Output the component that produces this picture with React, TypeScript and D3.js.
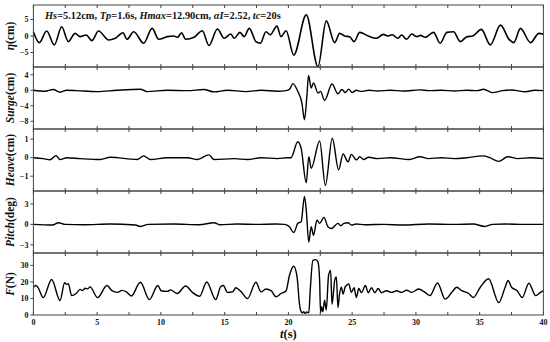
import React from "react";
import * as d3 from "d3";

const xTicks = [0, 5, 10, 15, 20, 25, 30, 35, 40];
const xMinorTicks = [2.5, 7.5, 12.5, 17.5, 22.5, 27.5, 32.5, 37.5];

const eta: [number, number][] = [
  [0, 1.3], [0.46, -2.0], [1.04, 1.5], [1.64, -2.7], [2.22, 2.8], [2.74, -1.7], [3.27, 0.8], [3.66, -0.2],
  [4.14, 0.3], [4.58, -1.4], [5.11, 1.5], [5.9, -1.2], [6.42, -0.7], [7.03, 1.0], [7.34, -1.0], [7.87, 1.3],
  [8.65, -2.2], [9.31, 2.3], [9.83, -1.0], [10.5, -0.2], [11.0, 0], [11.3, -0.4], [11.62, 1.0], [11.94, -1.0],
  [12.6, -0.4], [13.25, 1.6], [13.77, -2.9], [14.43, 2.1], [14.96, -0.7], [15.48, 0.6], [15.75, -0.7], [16.2, 1.1],
  [16.53, -0.2], [16.93, 2.3], [17.45, -1.7], [17.8, -2.2], [18.24, 1.3], [18.58, 0.4], [19.1, 3.0], [19.42, -0.2],
  [19.82, 1.6], [20.42, -5.8], [21.4, 6.4], [22.32, -9.3], [22.97, 4.6], [23.63, -2.0], [24.02, 0.8], [24.41, 0],
  [24.8, -0.2], [25.15, -1.7], [25.6, 1.1], [26.26, 0], [26.9, -0.7], [27.44, 0.5], [27.83, 0], [28.15, 0.4],
  [28.57, -0.7], [28.88, 0.3], [29.27, -1.0], [29.67, 0.6], [30.06, -0.2], [30.38, 0.2], [30.72, -0.4], [31.38, 1.1],
  [31.9, -2.2], [32.43, 1.1], [32.95, 1.3], [33.48, -1.7], [34.0, -0.2], [34.45, 0], [35.13, 2.0], [35.84, -2.7],
  [36.63, 3.3], [37.34, -1.2], [37.68, -2.0], [38.2, 2.3], [38.99, -2.0], [39.65, 0.8], [40, 0.5],
];

const surge: [number, number][] = [
  [0, 0], [0.9, -0.25], [1.56, 0.18], [2.09, -0.5], [2.62, 0], [3.4, -0.1], [4.98, -0.35], [6.55, 0],
  [8.39, 0.26], [8.92, -0.35], [10.5, 0], [12.07, -0.1], [13.38, 0.18], [14.17, -0.43], [15.22, 0], [16.67, -0.35],
  [17.85, 0], [19.16, -0.25], [19.82, -0.1], [20.1, 0.3], [20.35, 1.7], [20.74, -0.3], [21.06, -3.3], [21.26, -7.6],
  [21.45, -1.5], [21.58, 3.8], [21.79, 0.6], [21.97, 1.9], [22.32, -0.7], [22.52, -0.3], [22.84, -2.6], [23.42, 1.6],
  [23.89, -0.9], [24.2, 0.2], [24.46, -0.6], [24.73, 0.3], [25.0, -0.6], [25.33, 0], [25.7, -0.3], [26.3, 0],
  [27, -0.2], [28, 0], [29, -0.2], [30.3, 0.1], [31, -0.1], [32, 0], [33, -0.2], [34, 0], [34.8, -0.1],
  [35.3, 0.25], [36.0, -0.6], [36.8, -0.1], [37.5, 0.05], [38.6, -0.4], [39.3, 0], [40, -0.1],
];

const heave: [number, number][] = [
  [0, 0], [0.77, -0.05], [1.3, -0.11], [1.77, 0.11], [2.09, -0.1], [2.62, 0], [3.66, -0.05], [5.24, -0.1],
  [6.03, 0.02], [8.13, -0.1], [8.65, 0.1], [9.18, -0.1], [10.5, 0], [12.07, 0], [12.86, -0.1], [13.77, 0.15],
  [14.17, -0.1], [15.75, -0.05], [16.8, -0.1], [17.85, 0], [19.16, -0.05], [19.9, 0], [20.2, 0], [20.74, 0.86],
  [21.0, 0.5], [21.4, -1.35], [21.6, 0.05], [21.79, -0.57], [22.45, 0.9], [22.9, -1.5], [23.44, 1.05], [23.94, -0.66],
  [24.29, 0.2], [24.68, -0.22], [24.94, 0.18], [25.33, -0.12], [25.6, 0.05], [25.9, -0.1], [26.3, 0.02], [27, -0.05],
  [28, 0], [29.5, -0.1], [30.3, 0.05], [31, -0.05], [32, 0], [33, -0.05], [34, 0], [35.3, 0.1], [35.8, 0],
  [36.5, -0.2], [37.2, 0.05], [38, -0.05], [39, 0], [40, -0.05],
];

const pitch: [number, number][] = [
  [0, 0], [1.5, -0.1], [1.96, 0.25], [2.5, 0], [4, -0.05], [6, 0.05], [8, -0.1], [8.39, -0.3], [9, 0],
  [11, 0.05], [13, -0.05], [14.17, 0.25], [14.6, -0.05], [16, 0.05], [17.5, 0], [19, 0.05], [19.7, 0],
  [20.08, -0.35], [20.42, -1.2], [20.74, 0.15], [21.0, 0.4], [21.26, 4.1], [21.4, 2.1], [21.6, -2.6], [21.79, -0.35],
  [21.97, -1.6], [22.24, 0.63], [22.45, 0.15], [22.79, 1.03], [23.1, -0.35], [23.37, -0.6], [23.89, 0.15], [24.1, -0.2],
  [24.36, 0.15], [24.68, 0.25], [24.94, -0.1], [25.3, 0.05], [26, -0.05], [27.5, 0], [29, -0.1], [31, 0.05],
  [33, 0], [34.5, 0.05], [35.4, -0.3], [36, 0], [37, 0.05], [38.5, 0], [40, 0],
];

const force: [number, number][] = [
  [0, 16.8], [0.2, 17.8], [0.38, 16.4], [0.77, 10.5], [1.43, 21.5], [2.09, 8.7], [2.45, 19.5], [2.6, 18.5],
  [2.74, 19], [3.0, 11.7], [3.35, 13], [3.66, 15.5], [3.85, 14.8], [4.06, 16.2], [4.25, 15.8], [4.45, 17],
  [5.03, 10.5], [5.77, 17.8], [6.16, 14.7], [6.6, 13.7], [6.95, 14.9], [7.29, 14], [7.68, 11.5], [8.39, 19.8],
  [9.1, 9.3], [9.76, 17.8], [10.02, 14.7], [10.5, 14.3], [10.76, 15.2], [11.28, 13], [11.94, 17.5], [12.47, 13.7],
  [13.04, 11.3], [13.59, 20], [14.3, 9.3], [14.7, 17.2], [14.9, 17.8], [15.22, 13.7], [15.62, 14], [15.88, 16.5],
  [16.27, 14.3], [16.8, 10], [17.45, 19.8], [17.85, 14], [18.24, 15.7], [18.64, 14.7], [19.03, 11], [19.42, 13],
  [19.82, 14.7], [20.08, 23.9], [20.42, 29.5], [20.68, 23], [20.87, 6.5], [20.95, 3], [21.1, 1.2], [21.2, 2],
  [21.3, 1], [21.45, 1.8], [21.6, 1.2], [21.71, 14.7], [21.92, 33], [22.15, 33.5], [22.32, 32], [22.45, 20.9],
  [22.52, 1.4], [22.6, 5], [22.7, 2], [22.84, 9], [22.97, 3], [23.15, 23.9], [23.31, 27], [23.42, 6.5],
  [23.55, 15], [23.63, 20.9], [23.76, 23], [23.89, 4.5], [24.0, 12], [24.15, 16.8], [24.29, 12.7], [24.45, 17],
  [24.55, 17.8], [24.73, 18.8], [24.94, 13.7], [25.15, 16.5], [25.33, 10.6], [25.52, 16], [25.73, 13.5], [26.04, 17.8],
  [26.26, 13.5], [26.52, 16.5], [26.78, 13.5], [27.04, 16], [27.3, 13.5], [27.7, 14.7], [28.1, 13.7], [28.49, 14.7],
  [28.88, 13.7], [29.27, 15], [29.67, 13.7], [30.2, 15.7], [30.72, 13.7], [31.1, 11.7], [31.7, 19.4], [32.29, 9.6],
  [32.82, 13.7], [33.2, 16.8], [33.6, 14.7], [34.14, 13], [34.5, 10.6], [35.05, 16.8], [35.7, 21.9], [36.5, 7.5],
  [37.0, 16.8], [37.23, 20.9], [37.5, 16.8], [37.94, 14.7], [38.34, 10.6], [38.86, 19.2], [39.4, 11.7], [39.78, 13.7],
  [40, 14.7],
];

const etaTicks = [-5, 0, 5];
const surgeTicks = [-8, -4, 0, 4];
const heaveTicks = [-1, 0, 1];
const pitchTicks = [-3, 0, 3];
const forceTicks = [0, 10, 20, 30];

const FONT = "'Liberation Serif', 'Times New Roman', serif";

export default function App() {
  const W = 550, H = 342;
  const left = 33.4, right = 543.4;
  const panelTops = [5, 67, 129, 191, 253];
  const ph = 62;
  const x = d3.scaleLinear().domain([0, 40]).range([left, right]);

  const panels = [
    { data: eta, domain: [-9.4, 9.4], ticks: etaTicks, italic: "η", rest: "(cm)", sw: 1.6 },
    { data: surge, domain: [-10, 6], ticks: surgeTicks, italic: "Surge", rest: "(cm)", sw: 1.4 },
    { data: heave, domain: [-1.8, 1.55], ticks: heaveTicks, italic: "Heave", rest: "(cm)", sw: 1.4 },
    { data: pitch, domain: [-4.2, 4.9], ticks: pitchTicks, italic: "Pitch", rest: "(deg)", sw: 1.4 },
    { data: force, domain: [0, 37.5], ticks: forceTicks, italic: "F", rest: "(N)", sw: 1.4 },
  ];

  return (
    <svg width={W} height={H} style={{ position: "absolute", left: 0, top: 0, background: "#fff" }} fontFamily={FONT}>
      <rect x={0} y={0} width={W} height={H} fill="#fff" />
      {panels.map((p, i) => {
        const top = panelTops[i];
        const y = d3.scaleLinear().domain(p.domain).range([top + ph, top]);
        const line = d3.line<[number, number]>()
          .x(d => x(d[0]))
          .y(d => y(d[1]))
          .curve(d3.curveMonotoneX);
        const cy = top + ph / 2;
        return (
          <g key={i}>
            <path d={line(p.data) || ""} fill="none" stroke="#000" strokeWidth={p.sw} strokeLinejoin="round" />
            <rect x={left} y={top} width={right - left} height={ph} fill="none" stroke="#444" strokeWidth={1} />
            {[...xTicks, ...xMinorTicks].map((t, j) => (
              <g key={j}>
                <line x1={x(t)} x2={x(t)} y1={top} y2={top + 3} stroke="#444" strokeWidth={1} />
                <line x1={x(t)} x2={x(t)} y1={top + ph} y2={top + ph - 3} stroke="#444" strokeWidth={1} />
              </g>
            ))}
            {p.ticks.map((t, j) => (
              <g key={j}>
                <line x1={left - 3} x2={left} y1={y(t)} y2={y(t)} stroke="#444" strokeWidth={1} />
                <text x={left - 5} y={y(t)} dy="0.35em" textAnchor="end" fontSize={8} fontWeight="bold" fill="#111">
                  {t < 0 ? "\u2212" + Math.abs(t) : String(t)}
                </text>
              </g>
            ))}
            <text transform={`translate(14,${cy}) rotate(-90)`} textAnchor="middle" fontSize={11.5} fontWeight="bold" fill="#111">
              <tspan fontStyle="italic">{p.italic}</tspan>
              <tspan>{p.rest}</tspan>
            </text>
          </g>
        );
      })}
      {xTicks.map((t, j) => (
        <text key={j} x={x(t)} y={325} textAnchor="middle" fontSize={8} fontWeight="bold" fill="#111">{t}</text>
      ))}
      <text x={x(20)} y={338} textAnchor="middle" fontSize={12.5} fontWeight="bold" fill="#111">
        <tspan fontStyle="italic">t</tspan>
        <tspan>(s)</tspan>
      </text>
      <text x={45} y={18.5} fontSize={10.4} fontWeight="bold" fill="#111">
        <tspan fontStyle="italic">Hs</tspan><tspan>=5.12cm, </tspan>
        <tspan fontStyle="italic">Tp</tspan><tspan>=1.6s, </tspan>
        <tspan fontStyle="italic">Hmax</tspan><tspan>=12.90cm, </tspan>
        <tspan fontStyle="italic">αI</tspan><tspan>=2.52, </tspan>
        <tspan fontStyle="italic">tc</tspan><tspan>=20s</tspan>
      </text>
    </svg>
  );
}
